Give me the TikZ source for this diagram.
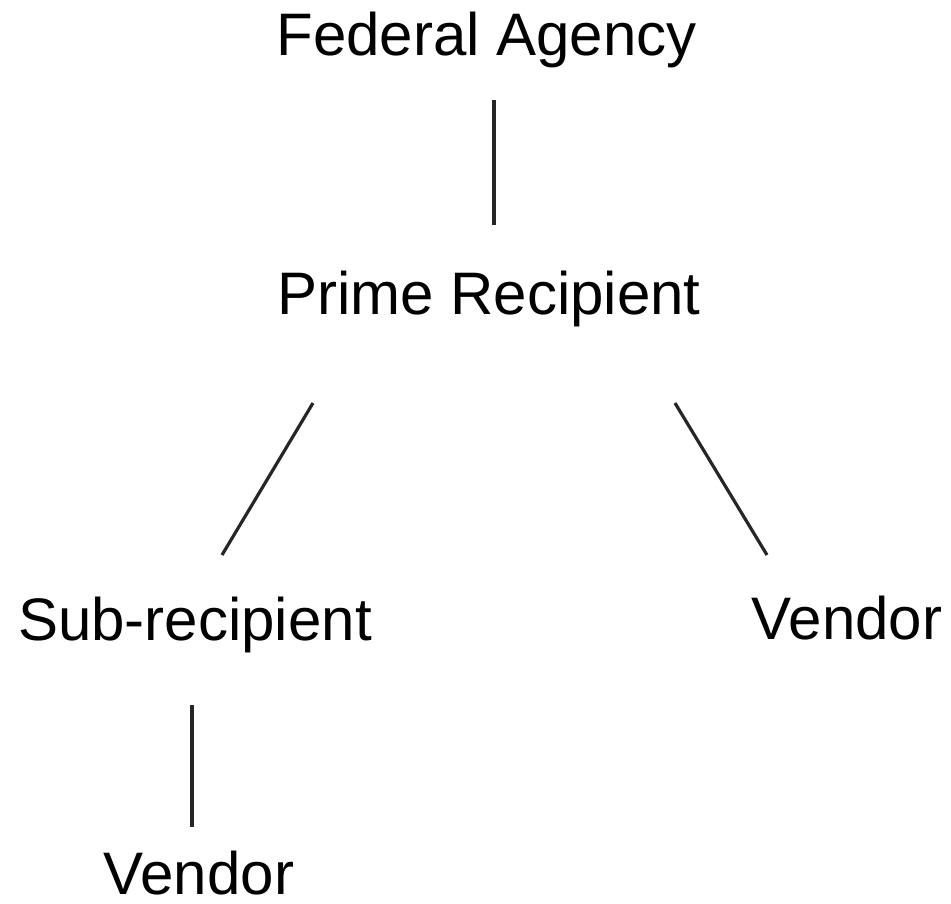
\documentclass[tikz,border=0pt]{standalone}
\usepackage{fontspec}
\setmainfont{Liberation Sans}
\begin{document}
\begin{tikzpicture}[x=1pt,y=-1pt,
  lbl/.style={anchor=base,inner sep=0pt,font=\fontsize{60}{70}\selectfont},
  conn/.style={draw=black!85,line width=3.2pt}]
\useasboundingbox (0,0) rectangle (951,903);
\node[lbl] (fed) at (486.5,55) {Federal Agency};
\node[lbl] (prime) at (489,314) {Prime Recipient};
\node[lbl] (sub) at (195,640) {Sub-recipient};
\node[lbl] (vendR) at (847,639) {Vendor};
\node[lbl] (vendB) at (199,894) {Vendor};
\coordinate (c1a) at (494,100);
\coordinate (c1b) at (494,225);
\coordinate (c2a) at (313,403);
\coordinate (c2b) at (222,555);
\coordinate (c3a) at (675,403);
\coordinate (c3b) at (767,555);
\coordinate (c4a) at (192,705);
\coordinate (c4b) at (192,827);
\draw[conn] (c1a) -- (c1b);
\draw[conn] (c2a) -- (c2b);
\draw[conn] (c3a) -- (c3b);
\draw[conn] (c4a) -- (c4b);
\end{tikzpicture}
\end{document}
